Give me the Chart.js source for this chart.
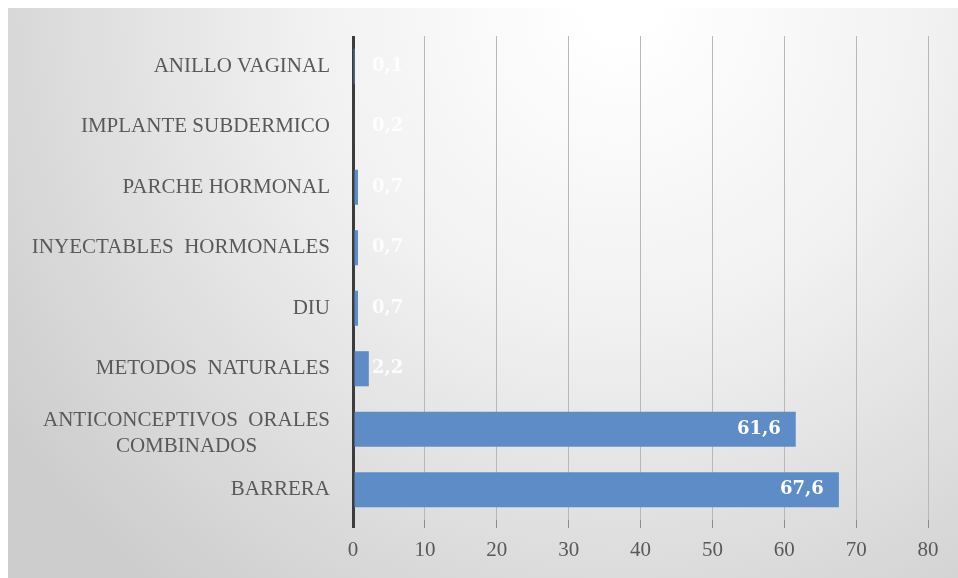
<!DOCTYPE html>
<html>
<head>
<meta charset="utf-8">
<script src="https://cdn.jsdelivr.net/npm/chart.js@4"></script>
<style>
  html, body { margin: 0; padding: 0; background: #fff; }
  #wrap { width: 958px; height: 578px; }
</style>
</head>
<body>
<div id="wrap"><canvas id="methods-chart"></canvas></div>
<script>
const categories = [
    "ANILLO VAGINAL",
    "IMPLANTE SUBDERMICO",
    "PARCHE HORMONAL",
    "INYECTABLES  HORMONALES",
    "DIU",
    "METODOS  NATURALES",
    ["ANTICONCEPTIVOS  ORALES", "COMBINADOS"],
    "BARRERA",
];
const values = [0.1, 0.2, 0.7, 0.7, 0.7, 2.2, 61.6, 67.6];
const xMin = 0;
const xMax = 80;
const xStep = 10;

const methodsChart = document.querySelector("canvas#methods-chart");

const fmt = (v) => v.toFixed(1).replace(".", ",");

// gray vignette behind everything
const background = {
    id: "background",
    beforeDraw(chart) {
        const { ctx, width, height } = chart;
        ctx.save();
        ctx.fillStyle = "#ffffff";
        ctx.fillRect(0, 0, width, height);
        const g = ctx.createRadialGradient(620, 10, 30, 620, 10, 740);
        g.addColorStop(0, "#ffffff");
        g.addColorStop(0.4, "#f1f1f1");
        g.addColorStop(1, "#cdcdcd");
        ctx.fillStyle = g;
        ctx.fillRect(8, 8, width - 8, height - 8);
        ctx.restore();
    },
};

// category names, right aligned, multi-line ones centred on themselves
const categoryLabels = {
    id: "categoryLabels",
    afterDraw(chart) {
        const { ctx } = chart;
        const y = chart.scales.y;
        const right = chart.chartArea.left - 23;
        ctx.save();
        ctx.font = "21px 'Liberation Serif'";
        ctx.fillStyle = "#595959";
        ctx.textBaseline = "middle";
        categories.forEach((label, i) => {
            const cy = y.getPixelForValue(i);
            if (Array.isArray(label)) {
                const w = Math.max(...label.map((l) => ctx.measureText(l).width));
                const cx = right - w / 2;
                ctx.textAlign = "center";
                label.forEach((line, j) => {
                    ctx.fillText(line, cx, cy + 4 + (j - (label.length - 1) / 2) * 26);
                });
            } else {
                ctx.textAlign = "right";
                ctx.fillText(label, right, cy);
            }
        });
        ctx.restore();
    },
};

// value labels at the bar ends
const valueLabels = {
    id: "valueLabels",
    afterDatasetsDraw(chart) {
        const { ctx } = chart;
        const meta = chart.getDatasetMeta(0);
        const zero = chart.scales.x.getPixelForValue(0);
        ctx.save();
        ctx.font = "bold 18px 'DejaVu Serif'";
        ctx.textBaseline = "middle";
        meta.data.forEach((bar, i) => {
            const v = values[i];
            if (v > 10) {
                ctx.fillStyle = "#ffffff";
                ctx.textAlign = "right";
                ctx.fillText(fmt(v), bar.x - 15, bar.y);
            } else {
                ctx.fillStyle = "rgba(255,255,255,0.85)";
                ctx.textAlign = "left";
                ctx.fillText(fmt(v), Math.max(bar.x + 3, zero + 19), bar.y);
            }
        });
        ctx.restore();
    },
};

const config = {
    type: "bar",
    data: {
        labels: categories,
        datasets: [
            {
                data: values,
                backgroundColor: "#5e8cc7",
                borderWidth: 0,
                barPercentage: 0.58,
                categoryPercentage: 1,
            },
        ],
    },
    options: {
        indexAxis: "y",
        responsive: true,
        maintainAspectRatio: false,
        animation: false,
        layout: {
            padding: { left: 353, right: 30, top: 36, bottom: 0 },
        },
        scales: {
            x: {
                min: xMin,
                max: xMax,
                afterFit(scale) {
                    scale.height = 58;
                },
                ticks: {
                    stepSize: xStep,
                    color: "#595959",
                    padding: 10,
                    font: { family: "'Liberation Serif'", size: 21 },
                },
                grid: {
                    color: (c) => (c.tick && c.tick.value === 0 ? "#3c3c3c" : "#b8b8b8"),
                    tickColor: (c) => (c.tick && c.tick.value === 0 ? "#3c3c3c" : "#8c8c8c"),
                    lineWidth: (c) => (c.tick && c.tick.value === 0 ? 3 : 1),
                    tickLength: 8,
                },
                border: { display: false },
            },
            y: {
                display: false,
            },
        },
        plugins: {
            legend: { display: false },
            tooltip: { enabled: false },
        },
    },
    plugins: [background, valueLabels, categoryLabels],
};

new Chart(methodsChart, config);
</script>
</body>
</html>
